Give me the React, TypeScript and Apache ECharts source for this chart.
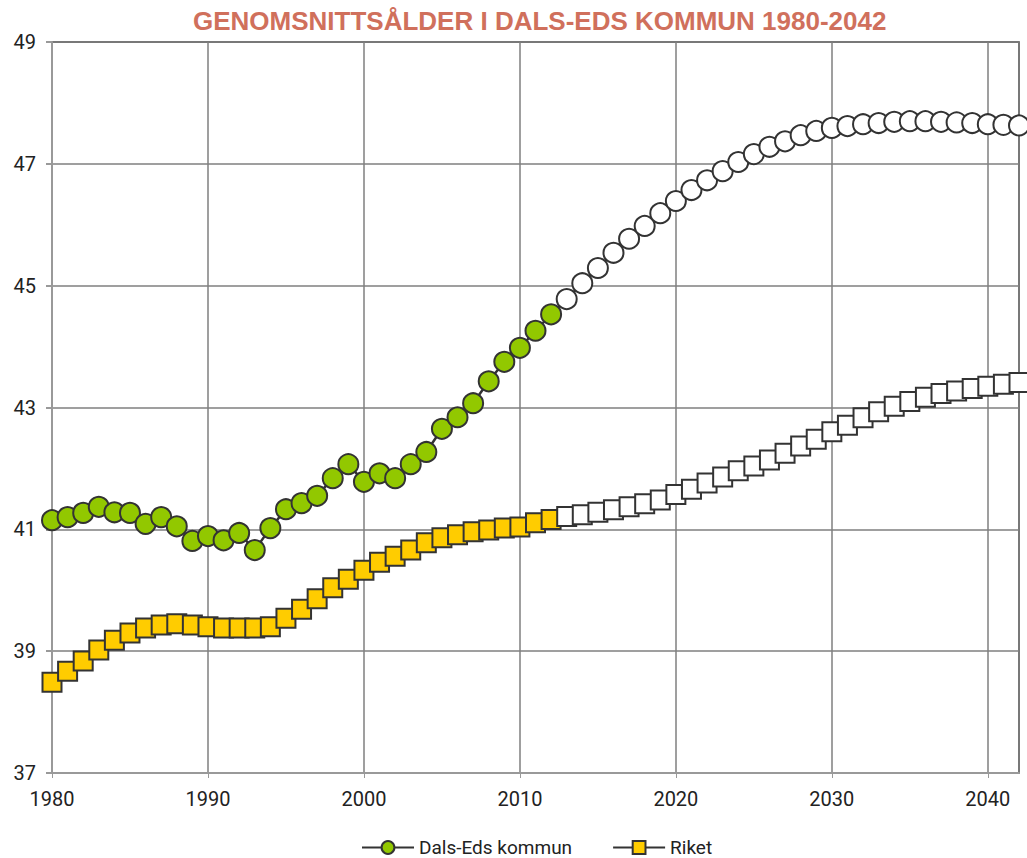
import React, { useEffect, useRef } from "react";
import * as echarts from "echarts";

const years: number[] = [];
for (let y = 1980; y <= 2042; y++) years.push(y);

const lastObservedYear = 2012;

const dalsEds: number[] = [
  41.15, 41.2, 41.27, 41.37, 41.28, 41.27, 41.09, 41.2, 41.05, 40.81,
  40.89, 40.82, 40.94, 40.66, 41.02, 41.33, 41.43, 41.55, 41.84, 42.07,
  41.78, 41.92, 41.84, 42.07, 42.27, 42.65, 42.84, 43.07, 43.43, 43.75,
  43.98, 44.26, 44.53,
  44.78, 45.04, 45.29, 45.54, 45.77, 45.98, 46.19, 46.39, 46.57, 46.73,
  46.88, 47.03, 47.16, 47.28, 47.37, 47.47, 47.54, 47.59, 47.62, 47.65,
  47.67, 47.69, 47.7, 47.7, 47.69, 47.68, 47.67, 47.65, 47.64, 47.63,
];

const riket: number[] = [
  38.49, 38.67, 38.84, 39.02, 39.18, 39.3, 39.38, 39.43, 39.45, 39.43,
  39.4, 39.38, 39.38, 39.38, 39.4, 39.54, 39.69, 39.86, 40.04, 40.18,
  40.33, 40.46, 40.56, 40.66, 40.78, 40.86, 40.91, 40.96, 40.99, 41.02,
  41.04, 41.11, 41.16,
  41.21, 41.24, 41.28, 41.32, 41.37, 41.42, 41.48, 41.57, 41.66, 41.76,
  41.86, 41.96, 42.04, 42.14, 42.25, 42.37, 42.48, 42.6, 42.71, 42.83,
  42.93, 43.02, 43.1, 43.17, 43.23, 43.27, 43.31, 43.35, 43.38, 43.41,
];

const yTicks = [37, 39, 41, 43, 45, 47, 49];
const xTicks = [1980, 1990, 2000, 2010, 2020, 2030, 2040];

const titleText = "GENOMSNITTSÅLDER I DALS-EDS KOMMUN 1980-2042";
const seriesNames = ["Dals-Eds kommun", "Riket"];

const FONT = "Roboto, 'Liberation Sans', sans-serif";

function buildData(values: number[], fill: string) {
  return years.map((yr, i) => ({
    value: [yr, values[i]],
    itemStyle: { color: yr > lastObservedYear ? "#ffffff" : fill },
  }));
}

export default function App() {
  const ref = useRef<HTMLDivElement>(null);
  useEffect(() => {
    document.body.style.margin = "0";
    if (!ref.current) return;
    const chart = echarts.init(ref.current, undefined, { renderer: "svg" });
    chart.setOption({
      animation: false,
      backgroundColor: "#ffffff",
      title: {
        text: titleText,
        left: 193,
        top: 8,
        padding: 0,
        textStyle: {
          color: "#D0705C",
          fontFamily: "'Liberation Sans', Arial, sans-serif",
          fontSize: 26,
          fontWeight: "bold",
        },
      },
      grid: {
        left: 52,
        right: 8,
        top: 42,
        bottom: 85,
        show: true,
        borderColor: "#333333",
        borderWidth: 1.5,
      },
      legend: {
        top: 838,
        left: 361,
        padding: 0,
        itemWidth: 52,
        itemHeight: 16,
        itemGap: 40,
        data: seriesNames,
        textStyle: { fontFamily: FONT, fontSize: 19, color: "#222" },
      },
      xAxis: {
        type: "value",
        min: xTicks[0],
        max: 2042,
        interval: 10,
        axisLine: { show: true, lineStyle: { color: "#999", width: 2 } },
        axisTick: { show: true, length: 5, lineStyle: { color: "#999" } },
        axisLabel: {
          showMaxLabel: false,
          margin: 16,
          fontFamily: FONT,
          fontSize: 20,
          color: "#222",
          formatter: (v: number) => String(v),
        },
        splitLine: { show: true, lineStyle: { color: "#7f7f7f", width: 1.5 } },
      },
      yAxis: {
        type: "value",
        min: yTicks[0],
        max: yTicks[yTicks.length - 1],
        interval: 2,
        axisLine: { show: true, lineStyle: { color: "#999", width: 2 } },
        axisTick: { show: true, length: 6, lineStyle: { color: "#999", width: 2 } },
        axisLabel: {
          margin: 16,
          fontFamily: FONT,
          fontSize: 20,
          color: "#222",
          formatter: (v: number) => String(v),
        },
        splitLine: { show: true, lineStyle: { color: "#7f7f7f", width: 1.5 } },
      },
      series: [
        {
          name: seriesNames[0],
          type: "line",
          symbol: "circle",
          symbolSize: 20,
          data: buildData(dalsEds, "#92C800"),
          lineStyle: { color: "#333333", width: 2.5 },
          itemStyle: { color: "#92C800", borderColor: "#333333", borderWidth: 2 },
          z: 3,
        },
        {
          name: seriesNames[1],
          type: "line",
          symbol: "rect",
          symbolSize: 19,
          data: buildData(riket, "#FFCC00"),
          lineStyle: { color: "#333333", width: 2.5 },
          itemStyle: { color: "#FFCC00", borderColor: "#333333", borderWidth: 2 },
          z: 3,
        },
      ],
    });
    return () => chart.dispose();
  }, []);
  return (
    <div
      ref={ref}
      style={{ position: "fixed", left: 0, top: 0, width: 1027, height: 858 }}
    />
  );
}
